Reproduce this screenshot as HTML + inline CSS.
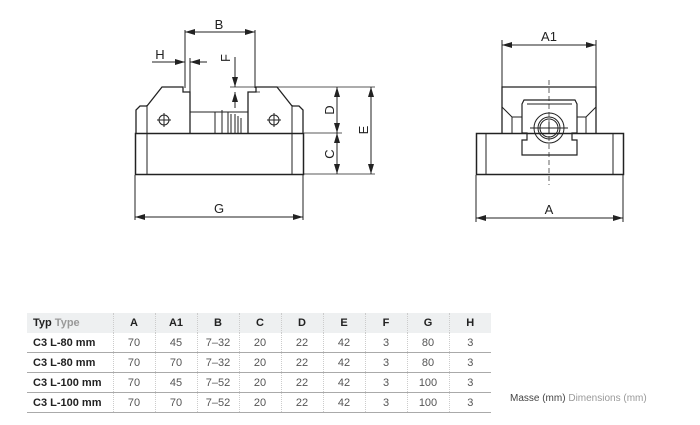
<!DOCTYPE html>
<html><head><style>
body{margin:0;background:#fff;width:700px;height:425px;overflow:hidden;font-family:"Liberation Sans",sans-serif}
svg{position:absolute;left:0;top:0}
table{position:absolute;left:27px;top:313px;width:464px;table-layout:fixed;border-collapse:collapse;font-size:11px;color:#555}
td{height:19px;text-align:center;border-left:1px dotted #ccc;padding:0;border-bottom:1px solid #aaa}
td:first-child{text-align:left;border-left:none;font-weight:bold;color:#222;padding-left:6px}
tr.h td{background:#eef0f1;font-weight:bold;color:#222;border-bottom:none;height:20px}
tr.h td span{color:#999;font-weight:bold}
.m{position:absolute;left:510px;top:393px;font-size:10px;color:#444}
.m span{color:#999}
</style></head><body>
<svg width="700" height="425" viewBox="0 0 700 425" fill="none" stroke="#222" stroke-width="1">
<defs><marker id="a" viewBox="0 0 10 6" refX="10" refY="3" markerWidth="10" markerHeight="6" orient="auto-start-reverse"><path d="M0,0L10,3L0,6z" fill="#222" stroke="none"/></marker></defs>
<rect x="135.5" y="133.5" width="168" height="41" stroke-width="1.5"/>
<line x1="147" y1="105" x2="147" y2="174"/><line x1="292" y1="105" x2="292" y2="174"/>
<path d="M136,133V110L140,106H147L162,87H183V92H190V133" stroke-width="1.3"/>
<path d="M303,133V110L299,106H292L277,87H256V92H248V133" stroke-width="1.3"/>
<path d="M190,112H248M215,112V133M222,110V133M228,112V133M231,114V133M235,114V133M238,116V133M241,118V133"/>
<circle cx="164" cy="120" r="5"/><path d="M157,120h14M164,113v14"/>
<circle cx="274" cy="120" r="5"/><path d="M267,120h14M274,113v14"/>
<path d="M185,30V88M255,30V88"/>
<line x1="185" y1="32" x2="255" y2="32" marker-start="url(#a)" marker-end="url(#a)"/>
<path d="M190,58V92"/>
<line x1="152" y1="62" x2="185" y2="62" marker-end="url(#a)"/>
<line x1="207" y1="62" x2="190" y2="62" marker-end="url(#a)"/>
<line x1="235" y1="57" x2="235" y2="87" marker-end="url(#a)"/>
<line x1="235" y1="108" x2="235" y2="92" marker-end="url(#a)"/>
<path d="M230,87H375M248,92H260M304,133H342M304,174H375" stroke-width="0.7"/>
<line x1="337" y1="87" x2="337" y2="133" marker-start="url(#a)" marker-end="url(#a)"/>
<line x1="337" y1="133" x2="337" y2="174" marker-start="url(#a)" marker-end="url(#a)"/>
<line x1="371" y1="87" x2="371" y2="174" marker-start="url(#a)" marker-end="url(#a)"/>
<path d="M135,175V220M303,175V220"/>
<line x1="135" y1="217" x2="303" y2="217" marker-start="url(#a)" marker-end="url(#a)"/>
<rect x="476.5" y="133.5" width="147" height="41" stroke-width="1.5"/>
<path d="M486,133V174M613,133V174"/>
<path d="M502,133V87H596V133" stroke-width="1.3"/>
<path d="M502,107L512,117V133M596,107L586,117V133M512,117H522M586,117H577"/>
<path d="M524,100H575L577,104V133H572V140H577V155H522V140H527V133H522V104Z" stroke-width="1.2"/>
<path d="M527,104H572"/>
<circle cx="549" cy="128" r="15"/><circle cx="549" cy="128" r="11"/><circle cx="549" cy="128" r="9"/>
<path d="M543,128h12M549,122v12M530,128h38"/>
<line x1="549" y1="80" x2="549" y2="185" stroke-dasharray="5,3" stroke-width="0.7"/>
<path d="M502,40V87M596,40V87M476,175V222M623,175V222"/>
<line x1="502" y1="45" x2="596" y2="45" marker-start="url(#a)" marker-end="url(#a)"/>
<line x1="476" y1="218" x2="623" y2="218" marker-start="url(#a)" marker-end="url(#a)"/>
<g fill="#222" stroke="none" font-family="Liberation Sans" font-size="13">
<text x="219" y="29" text-anchor="middle">B</text>
<text x="160" y="59" text-anchor="middle">H</text>
<text x="231" y="65" text-anchor="middle" transform="rotate(-90 227 62)">F</text>
<text x="330" y="114" text-anchor="middle" transform="rotate(-90 330 110)">D</text>
<text x="330" y="158" text-anchor="middle" transform="rotate(-90 330 154)">C</text>
<text x="364" y="134" text-anchor="middle" transform="rotate(-90 364 130)">E</text>
<text x="219" y="213" text-anchor="middle">G</text>
<text x="549" y="41" text-anchor="middle">A1</text>
<text x="549" y="214" text-anchor="middle">A</text>
</g>
</svg>
<table>
<colgroup><col style="width:86px"><col style="width:42px"><col style="width:42px"><col style="width:42px"><col style="width:42px"><col style="width:42px"><col style="width:42px"><col style="width:42px"><col style="width:42px"><col style="width:42px"></colgroup>
<tr class="h"><td>Typ <span>Type</span></td><td>A</td><td>A1</td><td>B</td><td>C</td><td>D</td><td>E</td><td>F</td><td>G</td><td>H</td></tr>
<tr><td>C3 L-80 mm</td><td>70</td><td>45</td><td>7–32</td><td>20</td><td>22</td><td>42</td><td>3</td><td>80</td><td>3</td></tr>
<tr><td>C3 L-80 mm</td><td>70</td><td>70</td><td>7–32</td><td>20</td><td>22</td><td>42</td><td>3</td><td>80</td><td>3</td></tr>
<tr><td>C3 L-100 mm</td><td>70</td><td>45</td><td>7–52</td><td>20</td><td>22</td><td>42</td><td>3</td><td>100</td><td>3</td></tr>
<tr><td>C3 L-100 mm</td><td>70</td><td>70</td><td>7–52</td><td>20</td><td>22</td><td>42</td><td>3</td><td>100</td><td>3</td></tr>
</table>
<div class="m">Masse (mm) <span>Dimensions (mm)</span></div>
</body></html>
